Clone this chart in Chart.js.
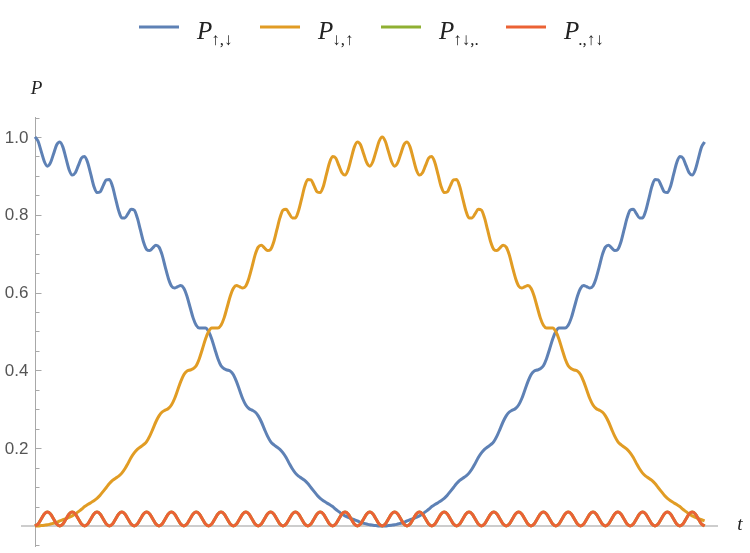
<!DOCTYPE html>
<html>
<head>
<meta charset="utf-8">
<script src="https://cdn.jsdelivr.net/npm/chart.js@4/dist/chart.umd.min.js"></script>
<style>
  html, body { margin: 0; padding: 0; background: #fff; }
  #wrap { width: 750px; height: 553px; }
</style>
</head>
<body>
<div id="wrap"><canvas id="graph" width="750" height="553"></canvas></div>
<script>
// time axis (units of the fast period), 8 samples per period
var tVals = [
  0,0.125,0.25,0.375,0.5,0.625,0.75,0.875,
  1,1.125,1.25,1.375,1.5,1.625,1.75,1.875,
  2,2.125,2.25,2.375,2.5,2.625,2.75,2.875,
  3,3.125,3.25,3.375,3.5,3.625,3.75,3.875,
  4,4.125,4.25,4.375,4.5,4.625,4.75,4.875,
  5,5.125,5.25,5.375,5.5,5.625,5.75,5.875,
  6,6.125,6.25,6.375,6.5,6.625,6.75,6.875,
  7,7.125,7.25,7.375,7.5,7.625,7.75,7.875,
  8,8.125,8.25,8.375,8.5,8.625,8.75,8.875,
  9,9.125,9.25,9.375,9.5,9.625,9.75,9.875,
  10,10.125,10.25,10.375,10.5,10.625,10.75,10.875,
  11,11.125,11.25,11.375,11.5,11.625,11.75,11.875,
  12,12.125,12.25,12.375,12.5,12.625,12.75,12.875,
  13,13.125,13.25,13.375,13.5,13.625,13.75,13.875,
  14,14.125,14.25,14.375,14.5,14.625,14.75,14.875,
  15,15.125,15.25,15.375,15.5,15.625,15.75,15.875,
  16,16.125,16.25,16.375,16.5,16.625,16.75,16.875,
  17,17.125,17.25,17.375,17.5,17.625,17.75,17.875,
  18,18.125,18.25,18.375,18.5,18.625,18.75,18.875,
  19,19.125,19.25,19.375,19.5,19.625,19.75,19.875,
  20,20.125,20.25,20.375,20.5,20.625,20.75,20.875,
  21,21.125,21.25,21.375,21.5,21.625,21.75,21.875,
  22,22.125,22.25,22.375,22.5,22.625,22.75,22.875,
  23,23.125,23.25,23.375,23.5,23.625,23.75,23.875,
  24,24.125,24.25,24.375,24.5,24.625,24.75,24.875,
  25,25.125,25.25,25.375,25.5,25.625,25.75,25.875,
  26,26.125,26.25,26.375,26.5,26.625,26.75,26.875,
  27
];

// P up,down (blue)
var pUpDown = [
  1.000,0.989,0.963,0.937,0.925,0.934,0.957,0.980,
  0.987,0.974,0.945,0.916,0.902,0.908,0.927,0.946,
  0.950,0.934,0.904,0.873,0.857,0.859,0.875,0.890,
  0.891,0.873,0.841,0.810,0.792,0.792,0.803,0.814,
  0.812,0.792,0.761,0.730,0.711,0.708,0.715,0.722,
  0.717,0.697,0.666,0.637,0.617,0.612,0.615,0.618,
  0.611,0.591,0.563,0.535,0.516,0.509,0.509,0.509,
  0.500,0.481,0.455,0.430,0.412,0.404,0.401,0.398,
  0.389,0.371,0.349,0.327,0.311,0.302,0.298,0.293,
  0.283,0.268,0.249,0.231,0.217,0.209,0.203,0.197,
  0.188,0.176,0.161,0.147,0.136,0.128,0.123,0.117,
  0.109,0.099,0.089,0.079,0.071,0.065,0.060,0.055,
  0.050,0.043,0.037,0.031,0.026,0.022,0.019,0.016,
  0.013,0.009,0.007,0.005,0.003,0.002,0.001,0.000,
  0.000,0.000,0.001,0.002,0.003,0.005,0.007,0.009,
  0.013,0.016,0.019,0.022,0.026,0.031,0.037,0.043,
  0.050,0.055,0.060,0.065,0.071,0.079,0.089,0.099,
  0.109,0.117,0.123,0.128,0.136,0.147,0.161,0.176,
  0.188,0.197,0.203,0.209,0.217,0.231,0.249,0.268,
  0.283,0.293,0.298,0.302,0.311,0.327,0.349,0.371,
  0.389,0.398,0.401,0.404,0.412,0.430,0.455,0.481,
  0.500,0.509,0.509,0.509,0.516,0.535,0.563,0.591,
  0.611,0.618,0.615,0.612,0.617,0.637,0.666,0.697,
  0.717,0.722,0.715,0.708,0.711,0.730,0.761,0.792,
  0.812,0.814,0.803,0.792,0.792,0.810,0.841,0.873,
  0.891,0.890,0.875,0.859,0.857,0.873,0.904,0.934,
  0.950,0.946,0.927,0.908,0.902,0.916,0.945,0.974,
  0.987
];

// P down,up (orange)
var pDownUp = [
  0.000,0.000,0.001,0.002,0.003,0.005,0.007,0.009,
  0.013,0.016,0.019,0.022,0.026,0.031,0.037,0.043,
  0.050,0.055,0.060,0.065,0.071,0.079,0.089,0.099,
  0.109,0.117,0.123,0.128,0.136,0.147,0.161,0.176,
  0.188,0.197,0.203,0.209,0.217,0.231,0.249,0.268,
  0.283,0.293,0.298,0.302,0.311,0.327,0.349,0.371,
  0.389,0.398,0.401,0.404,0.412,0.430,0.455,0.481,
  0.500,0.509,0.509,0.509,0.516,0.535,0.563,0.591,
  0.611,0.618,0.615,0.612,0.617,0.637,0.666,0.697,
  0.717,0.722,0.715,0.708,0.711,0.730,0.761,0.792,
  0.812,0.814,0.803,0.792,0.792,0.810,0.841,0.873,
  0.891,0.890,0.875,0.859,0.857,0.873,0.904,0.934,
  0.950,0.946,0.927,0.908,0.902,0.916,0.945,0.974,
  0.987,0.980,0.957,0.934,0.925,0.937,0.963,0.989,
  1.000,0.989,0.963,0.937,0.925,0.934,0.957,0.980,
  0.987,0.974,0.945,0.916,0.902,0.908,0.927,0.946,
  0.950,0.934,0.904,0.873,0.857,0.859,0.875,0.890,
  0.891,0.873,0.841,0.810,0.792,0.792,0.803,0.814,
  0.812,0.792,0.761,0.730,0.711,0.708,0.715,0.722,
  0.717,0.697,0.666,0.637,0.617,0.612,0.615,0.618,
  0.611,0.591,0.563,0.535,0.516,0.509,0.509,0.509,
  0.500,0.481,0.455,0.430,0.412,0.404,0.401,0.398,
  0.389,0.371,0.349,0.327,0.311,0.302,0.298,0.293,
  0.283,0.268,0.249,0.231,0.217,0.209,0.203,0.197,
  0.188,0.176,0.161,0.147,0.136,0.128,0.123,0.117,
  0.109,0.099,0.089,0.079,0.071,0.065,0.060,0.055,
  0.050,0.043,0.037,0.031,0.026,0.022,0.019,0.016,
  0.013
];

// P updown,. (green, hidden under the red one)
var pPairLeft = [
  0,0.005,0.018,0.031,0.036,0.031,0.018,0.005, 0,0.005,0.018,0.031,0.036,0.031,0.018,0.005,
  0,0.005,0.018,0.031,0.036,0.031,0.018,0.005, 0,0.005,0.018,0.031,0.036,0.031,0.018,0.005,
  0,0.005,0.018,0.031,0.036,0.031,0.018,0.005, 0,0.005,0.018,0.031,0.036,0.031,0.018,0.005,
  0,0.005,0.018,0.031,0.036,0.031,0.018,0.005, 0,0.005,0.018,0.031,0.036,0.031,0.018,0.005,
  0,0.005,0.018,0.031,0.036,0.031,0.018,0.005, 0,0.005,0.018,0.031,0.036,0.031,0.018,0.005,
  0,0.005,0.018,0.031,0.036,0.031,0.018,0.005, 0,0.005,0.018,0.031,0.036,0.031,0.018,0.005,
  0,0.005,0.018,0.031,0.036,0.031,0.018,0.005, 0,0.005,0.018,0.031,0.036,0.031,0.018,0.005,
  0,0.005,0.018,0.031,0.036,0.031,0.018,0.005, 0,0.005,0.018,0.031,0.036,0.031,0.018,0.005,
  0,0.005,0.018,0.031,0.036,0.031,0.018,0.005, 0,0.005,0.018,0.031,0.036,0.031,0.018,0.005,
  0,0.005,0.018,0.031,0.036,0.031,0.018,0.005, 0,0.005,0.018,0.031,0.036,0.031,0.018,0.005,
  0,0.005,0.018,0.031,0.036,0.031,0.018,0.005, 0,0.005,0.018,0.031,0.036,0.031,0.018,0.005,
  0,0.005,0.018,0.031,0.036,0.031,0.018,0.005, 0,0.005,0.018,0.031,0.036,0.031,0.018,0.005,
  0,0.005,0.018,0.031,0.036,0.031,0.018,0.005, 0,0.005,0.018,0.031,0.036,0.031,0.018,0.005,
  0,0.005,0.018,0.031,0.036,0.031,0.018,0.005,
  0
];

// P .,updown (red)
var pPairRight = [
  0,0.005,0.018,0.031,0.036,0.031,0.018,0.005, 0,0.005,0.018,0.031,0.036,0.031,0.018,0.005,
  0,0.005,0.018,0.031,0.036,0.031,0.018,0.005, 0,0.005,0.018,0.031,0.036,0.031,0.018,0.005,
  0,0.005,0.018,0.031,0.036,0.031,0.018,0.005, 0,0.005,0.018,0.031,0.036,0.031,0.018,0.005,
  0,0.005,0.018,0.031,0.036,0.031,0.018,0.005, 0,0.005,0.018,0.031,0.036,0.031,0.018,0.005,
  0,0.005,0.018,0.031,0.036,0.031,0.018,0.005, 0,0.005,0.018,0.031,0.036,0.031,0.018,0.005,
  0,0.005,0.018,0.031,0.036,0.031,0.018,0.005, 0,0.005,0.018,0.031,0.036,0.031,0.018,0.005,
  0,0.005,0.018,0.031,0.036,0.031,0.018,0.005, 0,0.005,0.018,0.031,0.036,0.031,0.018,0.005,
  0,0.005,0.018,0.031,0.036,0.031,0.018,0.005, 0,0.005,0.018,0.031,0.036,0.031,0.018,0.005,
  0,0.005,0.018,0.031,0.036,0.031,0.018,0.005, 0,0.005,0.018,0.031,0.036,0.031,0.018,0.005,
  0,0.005,0.018,0.031,0.036,0.031,0.018,0.005, 0,0.005,0.018,0.031,0.036,0.031,0.018,0.005,
  0,0.005,0.018,0.031,0.036,0.031,0.018,0.005, 0,0.005,0.018,0.031,0.036,0.031,0.018,0.005,
  0,0.005,0.018,0.031,0.036,0.031,0.018,0.005, 0,0.005,0.018,0.031,0.036,0.031,0.018,0.005,
  0,0.005,0.018,0.031,0.036,0.031,0.018,0.005, 0,0.005,0.018,0.031,0.036,0.031,0.018,0.005,
  0,0.005,0.018,0.031,0.036,0.031,0.018,0.005,
  0
];

var legendSubs = ['\u2191,\u2193', '\u2193,\u2191', '\u2191\u2193,.', '.,\u2191\u2193'];
var colors = ['#5E81B5', '#E19C24', '#8FB032', '#EB6235'];

var yMajorTicks = [0.2, 0.4, 0.6, 0.8, 1.0];
var yTickLabels = ['0.2', '0.4', '0.6', '0.8', '1.0'];
var yMinorTicks = [-0.05, 0.05, 0.1, 0.15, 0.25, 0.3, 0.35, 0.45, 0.5, 0.55, 0.65, 0.7, 0.75, 0.85, 0.9, 0.95, 1.05];

function pts(ys) {
  return tVals.map(function (t, i) { return {x: t, y: ys[i]}; });
}

var allSeries = [pUpDown, pDownUp, pPairLeft, pPairRight];

// axes through the origin, Mathematica style
var axesPlugin = {
  id: 'mmaAxes',
  beforeDatasetsDraw: function (chart) {
    var ctx = chart.ctx, xs = chart.scales.x, ys = chart.scales.y, a = chart.chartArea;
    var x0 = Math.round(xs.getPixelForValue(0)) + 0.5;
    var y0 = ys.getPixelForValue(0);
    ctx.save();
    ctx.strokeStyle = '#bdbdbd';
    ctx.lineWidth = 1.6;
    ctx.beginPath(); ctx.moveTo(a.left, y0); ctx.lineTo(a.right, y0); ctx.stroke();

    ctx.strokeStyle = '#a8a8a8';
    ctx.lineWidth = 1;
    ctx.beginPath(); ctx.moveTo(x0, a.top); ctx.lineTo(x0, a.bottom); ctx.stroke();

    ctx.beginPath();
    yMajorTicks.forEach(function (v) {
      var y = Math.round(ys.getPixelForValue(v)) + 0.5;
      ctx.moveTo(x0, y); ctx.lineTo(x0 + 6, y);
    });
    yMinorTicks.forEach(function (v) {
      var y = Math.round(ys.getPixelForValue(v)) + 0.5;
      ctx.moveTo(x0, y); ctx.lineTo(x0 + 4, y);
    });
    ctx.stroke();

    ctx.fillStyle = '#555';
    ctx.font = '17px "Liberation Sans", sans-serif';
    ctx.textAlign = 'right';
    ctx.textBaseline = 'middle';
    yMajorTicks.forEach(function (v, i) {
      ctx.fillText(yTickLabels[i], x0 - 7, ys.getPixelForValue(v) + 1);
    });

    // axis labels
    ctx.fillStyle = '#222';
    ctx.font = 'italic 19px "Liberation Serif", serif';
    ctx.textAlign = 'center';
    ctx.textBaseline = 'alphabetic';
    ctx.fillText('P', x0 + 1, 94);
    ctx.fillText('t', 740, 530);
    ctx.restore();
  },
  afterDraw: function (chart) {
    var ctx = chart.ctx;
    var starts = [139, 260, 381, 506];
    ctx.save();
    for (var i = 0; i < 4; i++) {
      var x = starts[i];
      ctx.strokeStyle = colors[i];
      ctx.lineWidth = 3;
      ctx.beginPath(); ctx.moveTo(x, 27); ctx.lineTo(x + 40, 27); ctx.stroke();
      ctx.fillStyle = '#222';
      ctx.textAlign = 'left';
      ctx.textBaseline = 'alphabetic';
      ctx.font = 'italic 25px "Liberation Serif", serif';
      ctx.fillText('P', x + 58, 39);
      var w = ctx.measureText('P').width;
      ctx.font = '17px "Liberation Serif", serif';
      ctx.fillText(legendSubs[i], x + 58 + w - 1, 45);
    }
    ctx.restore();
  }
};

var ctx = document.getElementById('graph');
var myChart = new Chart(ctx, {
  type: 'line',
  data: {
    datasets: allSeries.map(function (s, i) {
      return {
        label: 'P' + legendSubs[i],
        data: pts(s),
        borderColor: colors[i],
        backgroundColor: colors[i],
        borderWidth: 3,
        pointRadius: 0,
        fill: false,
        cubicInterpolationMode: 'monotone',
        order: 4 - i
      };
    })
  },
  options: {
    responsive: false,
    animation: false,
    devicePixelRatio: 1,
    layout: { padding: { left: 21, right: 32, top: 117, bottom: 6 } },
    plugins: { legend: { display: false }, tooltip: { enabled: false } },
    scales: {
      x: { type: 'linear', min: -0.565, max: 27.54, display: false },
      y: { type: 'linear', min: -0.054, max: 1.0514, display: false }
    }
  },
  plugins: [axesPlugin]
});
</script>
</body>
</html>
